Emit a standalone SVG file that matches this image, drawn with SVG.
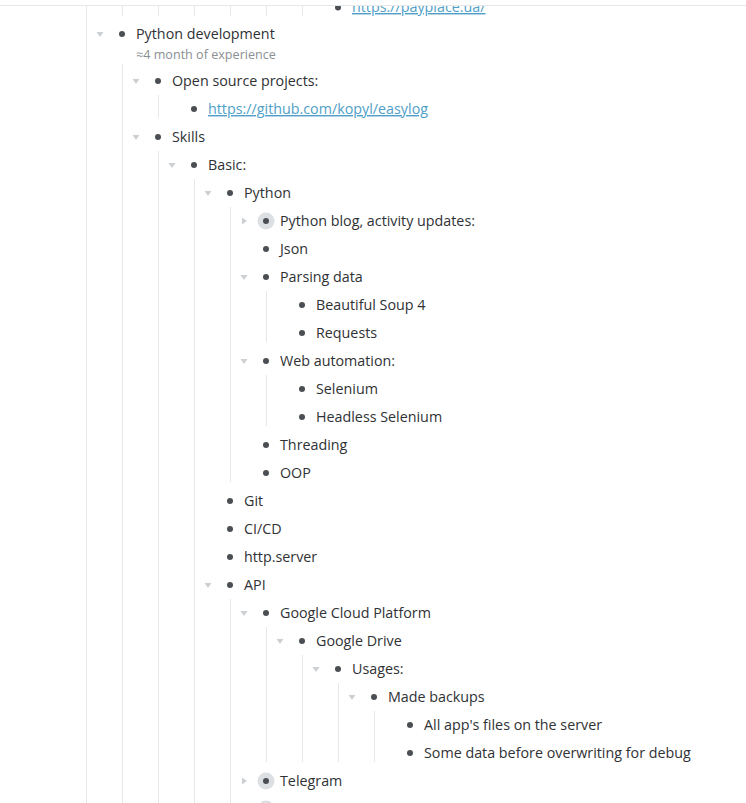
<svg xmlns="http://www.w3.org/2000/svg" width="746" height="803" viewBox="0 0 746 803">
<style>
.t{font-family:"Open Sans","Noto Sans","Liberation Sans",sans-serif;font-size:14.3px;fill:#2f3235}
.lk{fill:#4f9fc8;text-decoration:underline}
.note{font-family:"Open Sans","Noto Sans","Liberation Sans",sans-serif;font-size:12.6px;fill:#8a8f93}
.b{fill:#4b4f53}
.halo{fill:#dde0e3}
.tri{fill:#ccd0d3}
.g line{stroke:#e6e7e8;stroke-width:1}
</style>
<defs>
<path id="down" d="M-3.5,-2 L3.5,-2 L0,3 Z"/>
<path id="right" d="M-2,-3.5 L3,0 L-2,3.5 Z"/>
</defs>
<rect width="746" height="803" fill="#ffffff"/>
<g id="n-payplace"><circle class="b" cx="338" cy="7.5" r="3"/><text class="t lk" x="352" y="12">https://payplace.ua/</text></g>
<rect x="0" y="0" width="746" height="5" fill="#ffffff"/>
<g id="connectors" class="g">
<line x1="0" y1="5.5" x2="746" y2="5.5"/>
<line x1="86.5" y1="6" x2="86.5" y2="803"/>
<line x1="122.5" y1="6" x2="122.5" y2="16"/>
<line x1="158.5" y1="6" x2="158.5" y2="16"/>
<line x1="194.5" y1="6" x2="194.5" y2="16"/>
<line x1="230.5" y1="6" x2="230.5" y2="16"/>
<line x1="266.5" y1="6" x2="266.5" y2="16"/>
<line x1="302.5" y1="6" x2="302.5" y2="16"/>
<line x1="122.5" y1="64" x2="122.5" y2="803"/>
<line x1="158.5" y1="95" x2="158.5" y2="118"/>
<line x1="158.5" y1="151" x2="158.5" y2="803"/>
<line x1="194.5" y1="179" x2="194.5" y2="803"/>
<line x1="230.5" y1="207" x2="230.5" y2="482"/>
<line x1="266.5" y1="291" x2="266.5" y2="342"/>
<line x1="266.5" y1="375" x2="266.5" y2="426"/>
<line x1="230.5" y1="599" x2="230.5" y2="803"/>
<line x1="266.5" y1="627" x2="266.5" y2="762"/>
<line x1="302.5" y1="655" x2="302.5" y2="762"/>
<line x1="338.5" y1="683" x2="338.5" y2="762"/>
<line x1="374.5" y1="711" x2="374.5" y2="762"/>
</g>
<g id="n-python-dev"><use href="#down" class="tri" x="100" y="34"/><circle class="b" cx="122" cy="34" r="3"/><text class="t" x="136" y="39">Python development</text><text class="note" x="136" y="59">≈4 month of experience</text></g>
<g id="n-open-source"><use href="#down" class="tri" x="136" y="81"/><circle class="b" cx="158" cy="81" r="3"/><text class="t" x="172" y="86">Open source projects:</text></g>
<g id="n-easylog"><circle class="b" cx="194" cy="109" r="3"/><text class="t lk" x="208" y="114">https://github.com/kopyl/easylog</text></g>
<g id="n-skills"><use href="#down" class="tri" x="136" y="137"/><circle class="b" cx="158" cy="137" r="3"/><text class="t" x="172" y="142">Skills</text></g>
<g id="n-basic"><use href="#down" class="tri" x="172" y="165"/><circle class="b" cx="194" cy="165" r="3"/><text class="t" x="208" y="170">Basic:</text></g>
<g id="n-python"><use href="#down" class="tri" x="208" y="193"/><circle class="b" cx="230" cy="193" r="3"/><text class="t" x="244" y="198">Python</text></g>
<g id="n-blog"><use href="#right" class="tri" x="244" y="221"/><circle class="halo" cx="266" cy="221" r="8.5"/><circle class="b" cx="266" cy="221" r="3"/><text class="t" x="280" y="226">Python blog, activity updates:</text></g>
<g id="n-json"><circle class="b" cx="266" cy="249" r="3"/><text class="t" x="280" y="254">Json</text></g>
<g id="n-parsing"><use href="#down" class="tri" x="244" y="277"/><circle class="b" cx="266" cy="277" r="3"/><text class="t" x="280" y="282">Parsing data</text></g>
<g id="n-bs4"><circle class="b" cx="302" cy="305" r="3"/><text class="t" x="316" y="310">Beautiful Soup 4</text></g>
<g id="n-requests"><circle class="b" cx="302" cy="333" r="3"/><text class="t" x="316" y="338">Requests</text></g>
<g id="n-webauto"><use href="#down" class="tri" x="244" y="361"/><circle class="b" cx="266" cy="361" r="3"/><text class="t" x="280" y="366">Web automation:</text></g>
<g id="n-selenium"><circle class="b" cx="302" cy="389" r="3"/><text class="t" x="316" y="394">Selenium</text></g>
<g id="n-headless"><circle class="b" cx="302" cy="417" r="3"/><text class="t" x="316" y="422">Headless Selenium</text></g>
<g id="n-threading"><circle class="b" cx="266" cy="445" r="3"/><text class="t" x="280" y="450">Threading</text></g>
<g id="n-oop"><circle class="b" cx="266" cy="473" r="3"/><text class="t" x="280" y="478">OOP</text></g>
<g id="n-git"><circle class="b" cx="230" cy="501" r="3"/><text class="t" x="244" y="506">Git</text></g>
<g id="n-cicd"><circle class="b" cx="230" cy="529" r="3"/><text class="t" x="244" y="534">CI/CD</text></g>
<g id="n-httpserver"><circle class="b" cx="230" cy="557" r="3"/><text class="t" x="244" y="562">http.server</text></g>
<g id="n-api"><use href="#down" class="tri" x="208" y="585"/><circle class="b" cx="230" cy="585" r="3"/><text class="t" x="244" y="590">API</text></g>
<g id="n-gcp"><use href="#down" class="tri" x="244" y="613"/><circle class="b" cx="266" cy="613" r="3"/><text class="t" x="280" y="618">Google Cloud Platform</text></g>
<g id="n-gdrive"><use href="#down" class="tri" x="280" y="641"/><circle class="b" cx="302" cy="641" r="3"/><text class="t" x="316" y="646">Google Drive</text></g>
<g id="n-usages"><use href="#down" class="tri" x="316" y="669"/><circle class="b" cx="338" cy="669" r="3"/><text class="t" x="352" y="674">Usages:</text></g>
<g id="n-backups"><use href="#down" class="tri" x="352" y="697"/><circle class="b" cx="374" cy="697" r="3"/><text class="t" x="388" y="702">Made backups</text></g>
<g id="n-allfiles"><circle class="b" cx="410" cy="725" r="3"/><text class="t" x="424" y="730">All app's files on the server</text></g>
<g id="n-somedata"><circle class="b" cx="410" cy="753" r="3"/><text class="t" x="424" y="758">Some data before overwriting for debug</text></g>
<g id="n-telegram"><use href="#right" class="tri" x="244" y="781"/><circle class="halo" cx="266" cy="781" r="8.5"/><circle class="b" cx="266" cy="781" r="3"/><text class="t" x="280" y="786">Telegram</text></g>
<g id="n-next"><circle class="halo" cx="266" cy="809" r="8.5"/></g>
</svg>
